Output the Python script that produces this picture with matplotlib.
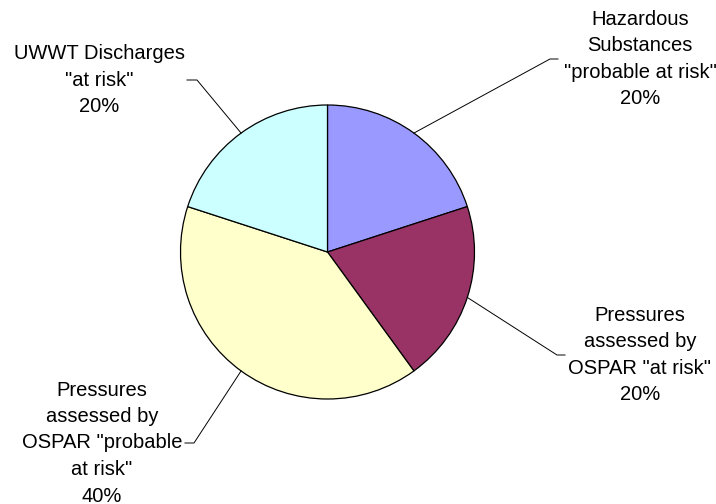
import numpy as np
import matplotlib
matplotlib.use("Agg")
import matplotlib.pyplot as plt

labels = ['Hazardous\nSubstances\n"probable at risk"',
          'Pressures\nassessed by\nOSPAR "at risk"',
          'Pressures\nassessed by\nOSPAR "probable\nat risk"',
          'UWWT Discharges\n"at risk"']
values = [20, 20, 40, 20]
colors = ['#9999FF', '#993366', '#FFFFCC', '#CCFFFF']

W, H = 716, 504
fig = plt.figure(figsize=(W / 100, H / 100), dpi=100)
ax = fig.add_axes([0, 0, 1, 1])

cx, cy, r = 327.5, H - 252, 147
wedges, _ = ax.pie(values, colors=colors, startangle=90, counterclock=False,
                   center=(cx, cy), radius=r, frame=True,
                   wedgeprops=dict(edgecolor='black', linewidth=0.9))
ax.set_xlim(0, W)
ax.set_ylim(0, H)
ax.set_aspect('equal')
ax.axis('off')

# label layout: (text center x, text center y in image px, elbow x, text-edge x)
layout = [
    (640, 59, 550, 558),
    (640, 355, 557, 565),
    (102, 443, 194, 185),
    (99, 80, 197, 187),
]
total = sum(values)
for w, lab, v, (tx, ty, ex, sx) in zip(wedges, labels, values, layout):
    ang = np.deg2rad((w.theta1 + w.theta2) / 2)
    px, py = cx + r * np.cos(ang), cy + r * np.sin(ang)
    yy = H - ty
    ax.plot([px, ex, sx], [py, yy, yy], color='black', linewidth=0.7)
    ax.text(tx, yy, f'{lab}\n{round(100 * v / total)}%', ha='center', va='center',
            fontsize=14.5, family='Liberation Sans', linespacing=1.5)

fig.savefig('out.png', dpi=100)
